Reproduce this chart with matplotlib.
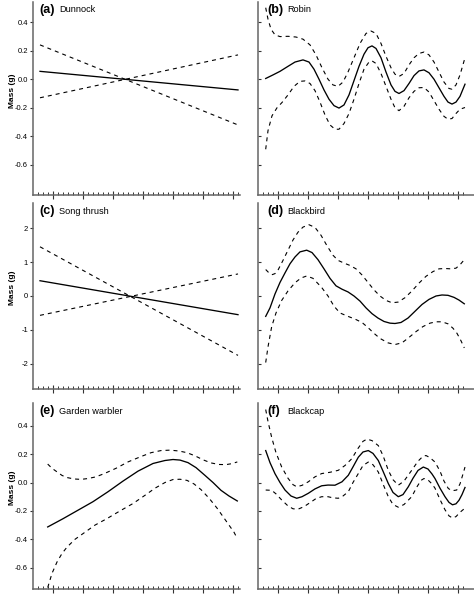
import matplotlib.pyplot as plt
import numpy as np

plt.rcParams['font.family'] = ['Liberation Sans', 'DejaVu Sans']
plt.rcParams['axes.unicode_minus'] = False

# x is in days from the start of the axis (no tick labels in the original)
x_lin = [7, 205]

# (a) Dunnock
fit_a = [0.055, -0.075]
upper_a = [0.24, -0.32]
lower_a = [-0.13, 0.17]

# (c) Song thrush
fit_c = [0.45, -0.55]
upper_c = [1.45, -1.75]
lower_c = [-0.57, 0.65]

# (b) Robin
xb_fit = [7.7, 15, 22, 30, 37, 45, 51, 56, 61, 66, 71, 76, 81, 86, 91, 96, 101, 106, 110, 114, 118, 123,
          128, 133, 137, 141, 146, 151, 156, 161, 166, 171, 176, 181, 186, 190, 194, 198, 202, 207]
b_fit = [0.005, 0.03, 0.055, 0.09, 0.12, 0.135, 0.12, 0.07, 0.0, -0.075, -0.14, -0.185, -0.202, -0.18, -0.11,
         -0.01, 0.09, 0.175, 0.22, 0.233, 0.215, 0.15, 0.05, -0.04, -0.085, -0.1, -0.08, -0.03, 0.025, 0.058,
         0.065, 0.045, 0.0, -0.06, -0.12, -0.16, -0.174, -0.16, -0.12, -0.035]
xb_up = [7.7, 10, 13, 17, 22, 30, 38, 45, 52, 58, 64, 70, 75, 80, 85, 90, 96, 102, 108, 113, 118, 123, 128,
         133, 137, 141, 146, 151, 156, 161, 166, 171, 176, 181, 186, 191, 194, 198, 202, 207]
b_up = [0.5, 0.42, 0.35, 0.31, 0.298, 0.30, 0.295, 0.28, 0.24, 0.17, 0.08, 0.0, -0.04, -0.05, -0.02, 0.05,
        0.15, 0.25, 0.32, 0.337, 0.32, 0.25, 0.16, 0.08, 0.035, 0.019, 0.04, 0.1, 0.15, 0.18, 0.19, 0.17,
        0.12, 0.05, -0.02, -0.065, -0.07, -0.04, 0.03, 0.15]
xb_lo = [7.7, 10, 14, 19, 24, 30, 36, 42, 47, 52, 57, 62, 67, 72, 77, 81, 86, 91, 96, 101, 106, 111, 114,
         118, 123, 128, 133, 137, 141, 146, 151, 156, 161, 166, 171, 176, 181, 186, 190, 194, 198, 202, 207]
b_lo = [-0.49, -0.36, -0.256, -0.2, -0.163, -0.11, -0.05, -0.015, -0.012, -0.03, -0.08, -0.16, -0.25, -0.32,
        -0.35, -0.35, -0.31, -0.24, -0.14, -0.03, 0.07, 0.12, 0.128, 0.11, 0.04, -0.05, -0.14, -0.2, -0.22,
        -0.19, -0.13, -0.085, -0.06, -0.058, -0.09, -0.15, -0.21, -0.26, -0.28, -0.275, -0.24, -0.21, -0.198]

# (d) Blackbird
xd_fit = [7.7, 12, 17, 22, 27, 32, 37, 42, 48.7, 54, 60, 66, 72, 78, 84, 90, 96, 102, 108, 114, 120, 126,
          132, 137, 143, 150, 157, 164, 171, 178, 184, 190, 196, 201, 206.3]
d_fit = [-0.6, -0.35, 0.06, 0.4, 0.68, 0.95, 1.15, 1.3, 1.35, 1.28, 1.07, 0.8, 0.52, 0.3, 0.2, 0.12, 0.0,
         -0.15, -0.35, -0.52, -0.65, -0.75, -0.8, -0.81, -0.78, -0.65, -0.45, -0.25, -0.1, 0.0, 0.03, 0.02,
         -0.04, -0.12, -0.23]
xd_up = [7.7, 11, 14.3, 17, 20.3, 25, 30, 35, 40, 45, 51, 57, 63, 69, 75, 80, 86, 92, 98, 104, 110, 116,
         122, 128, 134, 140, 147, 154, 161, 168, 175, 181, 187, 193, 198, 202, 206.3]
d_up = [0.78, 0.68, 0.63, 0.66, 0.78, 1.05, 1.35, 1.65, 1.88, 2.03, 2.1, 2.02, 1.79, 1.48, 1.2, 1.05, 0.97,
        0.9, 0.8, 0.62, 0.4, 0.18, 0.0, -0.13, -0.2, -0.18, -0.05, 0.15, 0.38, 0.58, 0.72, 0.8, 0.81, 0.8,
        0.82, 0.92, 1.07]
xd_lo = [7.7, 10, 13.7, 18, 23.7, 30, 37, 43, 48.7, 55, 63.7, 70, 76, 82, 90, 97, 104, 110, 116, 122, 130,
         137, 144, 151, 158, 165, 172, 178, 184, 190, 195, 199, 203, 206.3]
d_lo = [-1.96, -1.5, -0.9, -0.5, -0.13, 0.15, 0.39, 0.53, 0.59, 0.52, 0.25, 0.0, -0.3, -0.5, -0.6, -0.68,
        -0.78, -0.93, -1.1, -1.25, -1.38, -1.43, -1.38, -1.22, -1.05, -0.9, -0.8, -0.76, -0.76, -0.82, -0.95,
        -1.1, -1.32, -1.53]

# (e) Garden warbler
xe_fit = [14.7, 30, 45, 60, 75, 90, 105, 120, 132, 140, 147, 155, 163, 172, 180, 188, 196, 204.3]
e_fit = [-0.313, -0.255, -0.195, -0.135, -0.065, 0.01, 0.08, 0.134, 0.155, 0.162, 0.158, 0.14, 0.105, 0.05,
         0.0, -0.055, -0.095, -0.13]
xe_up = [14.7, 19, 24, 29, 34, 41, 48, 55, 63, 72, 83, 95, 107, 118, 128, 137, 146, 154, 162, 170, 178, 186,
         193, 199, 204.3]
e_up = [0.13, 0.1, 0.075, 0.05, 0.035, 0.025, 0.022, 0.028, 0.04, 0.065, 0.1, 0.145, 0.18, 0.21, 0.225,
        0.228, 0.222, 0.21, 0.188, 0.16, 0.138, 0.127, 0.126, 0.133, 0.145]
xe_lo = [14.7, 19, 24, 29, 34, 42, 50, 62, 74, 87, 100, 112, 122, 132, 140, 147, 154, 161, 168, 176, 184,
         191, 197, 201, 204.3]
e_lo = [-0.74, -0.64, -0.56, -0.5, -0.455, -0.4, -0.36, -0.3, -0.254, -0.2, -0.148, -0.09, -0.04, 0.0, 0.021,
        0.023, 0.015, -0.01, -0.05, -0.11, -0.18, -0.25, -0.31, -0.35, -0.395]

# (f) Blackcap
xf_fit = [7.7, 12, 17, 22, 27, 33, 38.7, 44, 50.3, 57, 63.7, 70, 77, 84, 90.3, 95, 100.3, 105, 110.3, 115,
          120.3, 125, 130.3, 135, 140.3, 145, 150.3, 155, 160, 165.3, 170, 174, 177, 182, 187, 191, 194.5,
          198, 201, 204, 207]
f_fit = [0.225, 0.14, 0.062, 0.0, -0.053, -0.095, -0.111, -0.1, -0.076, -0.045, -0.023, -0.018, -0.019,
         0.005, 0.051, 0.11, 0.178, 0.215, 0.225, 0.205, 0.155, 0.08, -0.007, -0.07, -0.1, -0.085, -0.03,
         0.03, 0.085, 0.109, 0.095, 0.06, 0.028, -0.04, -0.1, -0.14, -0.157, -0.15, -0.125, -0.085, -0.035]
xf_up = [7.7, 10, 13.7, 18, 23.7, 30, 35, 38.7, 44, 50.3, 57, 63.7, 72, 80.3, 87, 93.7, 100, 105, 109, 114,
         120.3, 125, 130.3, 135, 140.3, 146, 153.7, 160, 165, 168, 172, 177, 182, 186, 190.3, 194, 198.7,
         202, 205, 207]
f_up = [0.514, 0.43, 0.317, 0.21, 0.109, 0.03, -0.015, -0.03, -0.02, 0.005, 0.04, 0.063, 0.072, 0.086,
        0.12, 0.167, 0.24, 0.29, 0.306, 0.295, 0.26, 0.19, 0.086, 0.02, -0.019, 0.01, 0.086, 0.15, 0.185,
        0.19, 0.175, 0.144, 0.08, 0.01, -0.042, -0.058, -0.053, -0.01, 0.06, 0.109]
xf_lo = [7.7, 13.7, 18, 23.7, 30, 35, 40, 46, 53.7, 58, 63.7, 70, 75, 80.3, 85, 90.3, 95, 100.3, 105, 110.3,
         115, 120.3, 125, 130.3, 135, 140.3, 146, 153.7, 159, 163, 166, 170, 174, 177, 182, 187, 191, 194.5,
         198, 202, 207]
f_lo = [-0.053, -0.055, -0.08, -0.123, -0.165, -0.185, -0.188, -0.17, -0.134, -0.113, -0.1, -0.1, -0.108,
        -0.111, -0.095, -0.065, 0.0, 0.063, 0.12, 0.144, 0.125, 0.074, -0.01, -0.1, -0.155, -0.174, -0.155,
        -0.1, -0.03, 0.015, 0.028, 0.018, -0.01, -0.04, -0.12, -0.192, -0.235, -0.25, -0.24, -0.21, -0.18]

species = ['Dunnock', 'Robin', 'Song thrush', 'Blackbird', 'Garden warbler', 'Blackcap']
letters = ['(a)', '(b)', '(c)', '(d)', '(e)', '(f)']
major_days = [20, 50, 80, 110, 140, 170, 200]
minor_days = [d for d in range(5, 210, 5) if d not in major_days]

W, H = 474, 594
fig = plt.figure(figsize=(W / 100, H / 100), dpi=100)

# axes boxes in pixels: (left, right) per column, (top, bottom) per row
cols = [(33, 240), (258, 474)]
rows = [(2, 195), (203, 389), (403, 589)]
ylims = [(-0.81, 0.54), (-2.74, 2.74), (-0.75, 0.56)]
yticks = [[-0.6, -0.4, -0.2, 0.0, 0.2, 0.4], [-2, -1, 0, 1, 2], [-0.6, -0.4, -0.2, 0.0, 0.2, 0.4]]
ytick_fmt = ['{:.1f}', '{:d}', '{:.1f}']

curves = [
    (x_lin, fit_a, x_lin, upper_a, x_lin, lower_a),
    (xb_fit, b_fit, xb_up, b_up, xb_lo, b_lo),
    (x_lin, fit_c, x_lin, upper_c, x_lin, lower_c),
    (xd_fit, d_fit, xd_up, d_up, xd_lo, d_lo),
    (xe_fit, e_fit, xe_up, e_up, xe_lo, e_lo),
    (xf_fit, f_fit, xf_up, f_up, xf_lo, f_lo),
]

spine_col = '#666666'

for i in range(6):
    r, c = divmod(i, 2)
    x0, x1 = cols[c]
    t, b = rows[r]
    ax = fig.add_axes([x0 / W, 1 - b / H, (x1 - x0) / W, (b - t) / H])
    xf, yf, xu, yu, xl, yl = curves[i]
    ax.plot(xf, yf, color='black', lw=0.95, solid_joinstyle='round')
    ax.plot(xu, yu, color='black', lw=0.8, dashes=(3.6, 3.6))
    ax.plot(xl, yl, color='black', lw=0.8, dashes=(3.6, 3.6))

    ax.set_xlim(0, x1 - x0)
    ax.set_ylim(*ylims[r])
    ax.set_yticks(yticks[r])
    ax.set_xticks(major_days)
    ax.set_xticks(minor_days, minor=True)
    ax.set_xticklabels([])

    for s in ['top', 'right']:
        ax.spines[s].set_visible(False)
    for s in ['left', 'bottom']:
        ax.spines[s].set_color(spine_col)
        ax.spines[s].set_linewidth(1.1)

    ax.tick_params(axis='x', which='major', direction='inout', length=6, width=0.8, color='#333333')
    ax.tick_params(axis='x', which='minor', direction='in', length=2.5, width=0.7, color='#333333')
    if c == 0:
        ax.set_yticklabels([ytick_fmt[r].format(v) for v in yticks[r]])
        ax.tick_params(axis='y', direction='out', length=2.5, width=0.8, pad=1,
                       labelsize=5.5, color='#333333')
        fig.text(12 / W, 1 - (t + b - 16) / 2 / H, 'Mass (g)', rotation=90,
                 ha='center', va='center', fontsize=6, fontweight='bold')
    else:
        ax.set_yticklabels([])
        ax.tick_params(axis='y', direction='in', length=2.5, width=0.8, color='#333333')

    lx = x0 + (6 if c == 0 else 9)
    fig.text(lx / W, 1 - (t + 8) / H, letters[i], fontsize=9,
             fontweight='bold', ha='left', va='center')
    fig.text((lx + 20) / W, 1 - (t + 8) / H, species[i], fontsize=6.6,
             ha='left', va='center')

fig.savefig('out.png', dpi=100)
